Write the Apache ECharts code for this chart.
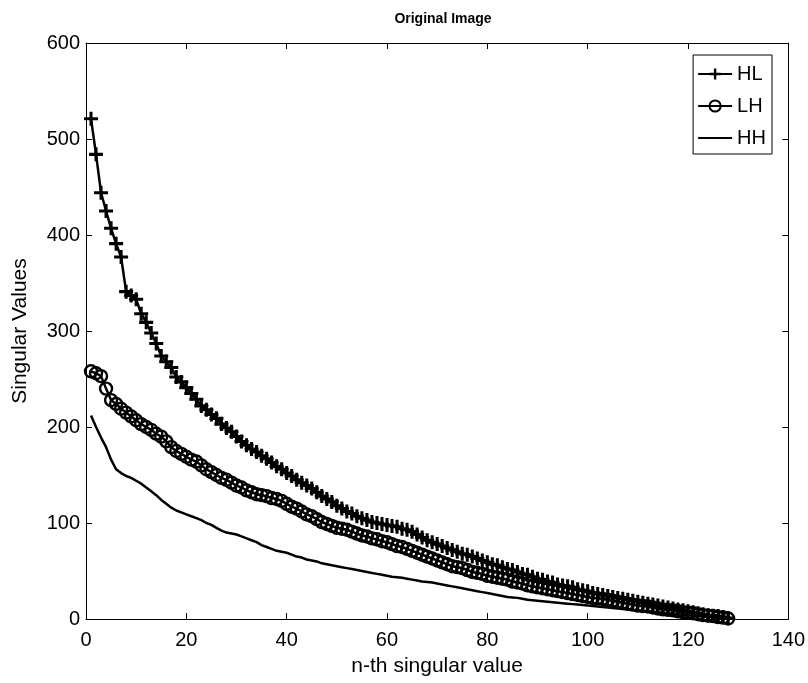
<!DOCTYPE html>
<html>
<head>
<meta charset="utf-8">
<script src="https://cdn.jsdelivr.net/npm/echarts@6/dist/echarts.min.js"></script>
<style>
html,body{margin:0;padding:0;background:#fff;}
#chart{width:808px;height:683px;}
</style>
</head>
<body>
<div id="chart"></div>
<script>
var titleText = 'Original Image';
var xName = 'n-th singular value';
var yName = 'Singular Values';
var seriesNames = ['HL', 'LH', 'HH'];

var HL = [521,484,444,425,407,391,377,341,337,333,318,309,298,287,274,268,262,252,247,241,
235,229,222,218,213,209,203,199,195,190,185,181,177,174,170,167,163,159,156,152,
149,145,142,139,136,132,128,125,122,118,115,112,110,107,105,103,101,100,99,98,
97,96,94,93,91,88,85,82,80,78,76,74,72,70,68,67,65,63,61,59,
57,56,54,52,51,49,47,46,44,42,41,39,38,36,35,34,33,31,30,29,
27,26,25,24,23,22,21,20,19,18,17,16,15,14,13,12,11,10,9,8,
7,6,5,4,3.5,3,2,1];

var LH = [258,256,253,240,228,224,219,215,211,207,203,200,197,193,190,185,179,175,172,169,
166,164,160,156,153,150,147,145,142,139,137,134,132,130,129,128,126,125,123,120,
117,115,112,109,107,104,101,99,97,95,94,93,91,89,87,86,84,83,81,80,
78,76,75,73,71,69,67,65,63,61,59,57,55,54,53,51,49,48,47,45,
44,43,42,41,39,38,37,35,34,33,32,31,30,29,28,27,26,25,24,23,
22,21.5,21,20,19,18,17,16,15,14,13.5,13,12,11,10,9.5,9,8,7,6.5,
6,5,4,3.5,3,2,1.5,0.5];

var HH = [212,200,189,179,166,156,152,149,147,144,141,137,133,129,124,120,116,113,111,109,
107,105,103,100,98,95,92,90,89,88,86,84,82,80,77,75,73,71,70,69,
67,65,64,62,61,60,58,57,56,55,54,53,52,51,50,49,48,47,46,45,
44,43.5,43,42,41,40,39,38.5,38,37,36,35,34,33,32,31,30,29,28,27,
26,25,24,23,22.5,22,21,20,19.5,19,18.5,18,17.5,17,16.5,16,15.5,15,14.5,14,
13.5,13,12.5,12,11.5,11,10.5,10,9.5,9,8.5,8,7.5,7,6.5,6,5.5,5,4.5,4,
3.5,3,2.5,2,1.5,1.2,0.8,0.5];

function pairs(arr){ return arr.map(function(v,i){ return [i+1, v]; }); }

var FONT = "'Liberation Sans',Arial,Helvetica,sans-serif";
var plus = 'path://M4.7,0 H7.3 V4.7 H12 V7.3 H7.3 V12 H4.7 V7.3 H0 V4.7 H4.7 Z';

function axisBase(){
  return {
    type: 'value',
    axisLine: {show: true, onZero: false, lineStyle: {color: '#000', width: 1}},
    axisTick: {show: true, inside: true, length: 6, lineStyle: {color: '#000', width: 1}},
    splitLine: {show: false}
  };
}

var chart = echarts.init(document.getElementById('chart'), null, {renderer: 'canvas'});
chart.setOption({
  animation: false,
  backgroundColor: '#fff',
  title: {
    text: titleText, left: 438, textAlign: 'center', top: 7,
    textStyle: {fontFamily: FONT, fontSize: 14, fontWeight: 'bold', color: '#000'}
  },
  grid: {left: 86, top: 43, right: 19, bottom: 64, show: false},
  legend: {
    right: 36, top: 55, orient: 'vertical', align: 'left',
    backgroundColor: '#fff', borderColor: '#000', borderWidth: 1, borderRadius: 0,
    padding: [9, 6, 6, 4], itemWidth: 34, itemHeight: 14, itemGap: 12,
    textStyle: {fontFamily: FONT, fontSize: 20, color: '#000'},
    data: seriesNames
  },
  xAxis: [
    Object.assign(axisBase(), {
      min: 0, max: 140, interval: 20, position: 'bottom',
      name: xName, nameLocation: 'middle', nameGap: 37,
      nameTextStyle: {fontFamily: FONT, fontSize: 21, color: '#000'},
      axisLabel: {fontFamily: FONT, fontSize: 20, color: '#000', margin: 11}
    }),
    Object.assign(axisBase(), {
      min: 0, max: 140, interval: 20, position: 'top', axisLabel: {show: false}
    })
  ],
  yAxis: [
    Object.assign(axisBase(), {
      min: 0, max: 600, interval: 100, position: 'left',
      name: yName, nameLocation: 'middle', nameGap: 55,
      nameTextStyle: {fontFamily: FONT, fontSize: 21, color: '#000'},
      axisLabel: {fontFamily: FONT, fontSize: 20, color: '#000', margin: 6}
    }),
    Object.assign(axisBase(), {
      min: 0, max: 600, interval: 100, position: 'right', axisLabel: {show: false}
    })
  ],
  series: [
    {
      name: 'HL', type: 'line', data: pairs(HL),
      symbol: plus, symbolSize: 14, showAllSymbol: true,
      lineStyle: {color: '#000', width: 2.5},
      itemStyle: {color: '#000', borderWidth: 0}
    },
    {
      name: 'LH', type: 'line', data: pairs(LH),
      symbol: 'circle', symbolSize: 12, showAllSymbol: true,
      lineStyle: {color: '#000', width: 2.5},
      itemStyle: {color: 'rgba(0,0,0,0)', borderColor: '#000', borderWidth: 2.4}
    },
    {
      name: 'HH', type: 'line', data: pairs(HH),
      symbol: 'none', showSymbol: false,
      lineStyle: {color: '#000', width: 2.5},
      itemStyle: {color: '#000', opacity: 0}
    }
  ]
});
</script>
</body>
</html>
